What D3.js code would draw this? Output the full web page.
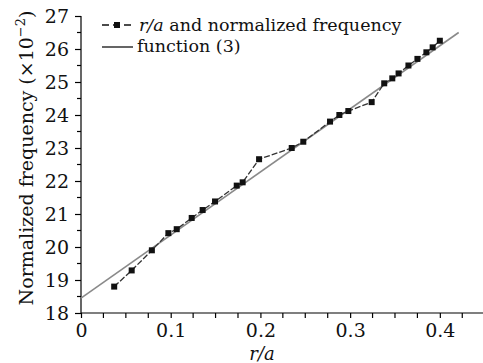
<!DOCTYPE html>
<html><head><meta charset="utf-8">
<script src="https://cdn.jsdelivr.net/npm/d3@7"></script>
<style>body{margin:0;background:#fff}svg{display:block}</style>
</head><body><svg id="c" width="483" height="363"></svg>
<script>
const rOverA = [0.037,0.0565,0.079,0.0974,0.1067,0.1234,0.1356,0.1494,0.1736,0.1802,0.1985,0.2349,0.2478,0.2776,0.288,0.298,0.324,0.338,0.347,0.354,0.365,0.375,0.385,0.392,0.400];
const normFreq = [18.80,19.29,19.90,20.42,20.54,20.88,21.12,21.38,21.86,21.96,22.66,23.00,23.19,23.80,24.00,24.12,24.39,24.96,25.11,25.26,25.50,25.70,25.90,26.05,26.25];
const fitX = [0, 0.421];
const fitY = [18.45, 26.50];
const xTicks = [0, 0.1, 0.2, 0.3, 0.4];
const yTicks = [18,19,20,21,22,23,24,25,26,27];
const legendLabels = ["r/a and normalized frequency", "function (3)"];

const svg = d3.select("#c");
const font = "DejaVu Serif";
const x = d3.scaleLinear().domain([0, 0.447]).range([81, 482]);
const y = d3.scaleLinear().domain([18, 27]).range([313, 16]);

// axes
const xAxis = d3.axisBottom(x).tickValues(xTicks).tickFormat(d => d === 0 ? "0" : d3.format(".1f")(d)).tickSize(5).tickPadding(6);
const gx = svg.append("g").attr("transform", "translate(0,313)").call(xAxis)
  .attr("font-family", font).attr("font-size", 19);
gx.select(".domain").attr("d", "M81,0H483");
gx.selectAll("text").attr("fill", "#111");
svg.append("g").selectAll("line").data(d3.range(0.025, 0.45, 0.025).filter(v => Math.abs(v*10 - Math.round(v*10)) > 0.01))
  .join("line").attr("x1", d => x(d)).attr("x2", d => x(d)).attr("y1", 313).attr("y2", 318).attr("stroke", "#000").attr("stroke-width", 1.2);

const yAxis = d3.axisLeft(y).tickValues(yTicks).tickFormat(d3.format("d")).tickSize(6).tickPadding(6);
const gy = svg.append("g").attr("transform", "translate(81,0)").call(yAxis)
  .attr("font-family", font).attr("font-size", 19);
gy.select(".domain").attr("d", "M0," + y(27) + "V313");
gy.selectAll("text").attr("fill", "#111");
svg.append("g").selectAll("line").data(d3.range(18.5, 27, 1))
  .join("line").attr("x1", 77).attr("x2", 81).attr("y1", d => y(d)).attr("y2", d => y(d)).attr("stroke", "#000").attr("stroke-width", 1.2);
svg.selectAll(".domain, .tick line").attr("stroke", "#000").attr("stroke-width", 1.2);

// fit line
svg.append("line").attr("x1", x(fitX[0])).attr("y1", y(fitY[0])).attr("x2", x(fitX[1])).attr("y2", y(fitY[1]))
  .attr("stroke", "#8a8a8a").attr("stroke-width", 1.6);

// data series
const pts = rOverA.map((v, i) => [v, normFreq[i]]);
svg.append("path").datum(pts).attr("d", d3.line().x(d => x(d[0])).y(d => y(d[1])))
  .attr("fill", "none").attr("stroke", "#333").attr("stroke-width", 1.3).attr("stroke-dasharray", "6,2");
svg.append("g").selectAll("rect").data(pts).join("rect")
  .attr("x", d => x(d[0]) - 3).attr("y", d => y(d[1]) - 3).attr("width", 6).attr("height", 6).attr("fill", "#111");

// legend
svg.append("line").attr("x1", 102).attr("x2", 132).attr("y1", 25).attr("y2", 25).attr("stroke", "#111").attr("stroke-width", 1.4).attr("stroke-dasharray", "7,4");
svg.append("rect").attr("x", 114).attr("y", 22).attr("width", 6).attr("height", 6).attr("fill", "#111");
const t1 = svg.append("text").attr("x", 139).attr("y", 31).attr("font-family", font).attr("font-size", 17.5).attr("fill", "#111");
t1.append("tspan").attr("font-style", "italic").text("r/a");
t1.append("tspan").text(legendLabels[0].slice(3));
svg.append("line").attr("x1", 102).attr("x2", 133).attr("y1", 47).attr("y2", 47).attr("stroke", "#111").attr("stroke-width", 1.3);
svg.append("text").attr("x", 137).attr("y", 52).attr("font-family", font).attr("font-size", 17.5).attr("fill", "#111").text(legendLabels[1]);

// axis titles
svg.append("text").attr("x", 262).attr("y", 360).attr("text-anchor", "middle").attr("font-family", font).attr("font-size", 18).attr("font-style", "italic").attr("fill", "#111").text("r/a");
const yt = svg.append("text").attr("transform", "translate(33,158) rotate(-90)").attr("text-anchor", "middle")
  .attr("font-family", font).attr("font-size", 19).attr("fill", "#111");
yt.append("tspan").text("Normalized frequency (\u00d710");
yt.append("tspan").attr("dy", -8).attr("font-size", 13).text("\u22122");
yt.append("tspan").attr("dy", 8).text(")");
</script></body></html>
